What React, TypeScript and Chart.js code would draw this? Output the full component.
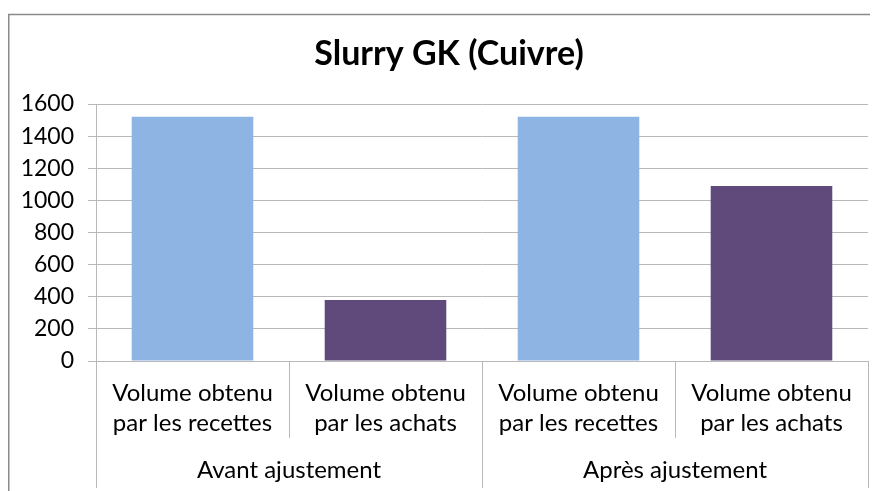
import React, { useEffect, useRef } from "react";
import { Chart, registerables } from "chart.js";

Chart.register(...registerables);

const title = "Slurry GK (Cuivre)";
const categories = ["recettes-avant", "achats-avant", "recettes-apres", "achats-apres"];
const innerLabels = [
  ["Volume obtenu", "par les recettes"],
  ["Volume obtenu", "par les achats"],
  ["Volume obtenu", "par les recettes"],
  ["Volume obtenu", "par les achats"],
];
const groupLabels = ["Avant ajustement", "Après ajustement"];
const groupSizes = [2, 2];
const values = [1520, 380, 1520, 1090];
const barColors = ["#8EB4E3", "#604A7B", "#8EB4E3", "#604A7B"];
const yMin = 0;
const yMax = 1600;
const yStep = 200;

const FONT = "Lato, 'Open Sans', sans-serif";
const GRID = "#b8b8b8";

const decorPlugin = {
  id: "decor",
  afterDraw(chart: any) {
    const ctx = chart.ctx;
    const area = chart.chartArea;
    const xs = chart.scales.x;
    ctx.save();
    // outer frame
    ctx.strokeStyle = "#8a8a8a";
    ctx.lineWidth = 1.5;
    ctx.strokeRect(0.75, 6.5, chart.width + 20, chart.height + 20);
    // title
    ctx.fillStyle = "#000";
    ctx.font = `bold 34px ${FONT}`;
    ctx.textAlign = "center";
    ctx.textBaseline = "middle";
    ctx.fillText(title, 441, 46);

    const centers = categories.map((_, i) => xs.getPixelForValue(i));
    const bounds: number[] = [area.left];
    for (let i = 0; i < centers.length - 1; i++) bounds.push((centers[i] + centers[i + 1]) / 2);
    bounds.push(area.right);

    // dividers
    ctx.strokeStyle = GRID;
    ctx.lineWidth = 1;
    const groupEdges = new Set<number>([0]);
    let acc = 0;
    groupSizes.forEach((s) => {
      acc += s;
      groupEdges.add(acc);
    });
    bounds.forEach((b, i) => {
      const long = groupEdges.has(i);
      const x = Math.round(b) + 0.5;
      ctx.beginPath();
      ctx.moveTo(x, area.bottom);
      ctx.lineTo(x, long ? area.bottom + 127 : area.bottom + 77);
      ctx.stroke();
    });

    // inner labels
    ctx.fillStyle = "#000";
    ctx.font = `24px ${FONT}`;
    innerLabels.forEach((lines, i) => {
      lines.forEach((ln, j) => {
        ctx.fillText(ln, centers[i], area.bottom + 32 + j * 30);
      });
    });
    // group labels
    let start = 0;
    groupSizes.forEach((s, g) => {
      const cx = (bounds[start] + bounds[start + s]) / 2;
      ctx.fillText(groupLabels[g], cx, area.bottom + 109);
      start += s;
    });
    ctx.restore();
  },
};

export default function App() {
  const ref = useRef<HTMLCanvasElement>(null);
  useEffect(() => {
    if (!ref.current) return;
    const chart = new Chart(ref.current, {
      type: "bar",
      data: {
        labels: categories,
        datasets: [
          {
            data: values,
            backgroundColor: barColors,
            borderWidth: 0,
            categoryPercentage: 0.63,
            barPercentage: 1,
          },
        ],
      },
      options: {
        animation: false,
        responsive: false,
        layout: { padding: { top: 96, right: 10, bottom: 130, left: 0 } },
        plugins: { legend: { display: false }, title: { display: false }, tooltip: { enabled: false } },
        scales: {
          x: { display: false },
          y: {
            min: yMin,
            max: yMax,
            ticks: {
              stepSize: yStep,
              padding: 14,
              color: "#000",
              font: { family: FONT, size: 23 },
              callback: (v: any) => String(v),
            },
            grid: { color: GRID, tickLength: 8, lineWidth: 1 },
            border: { color: GRID },
            afterFit: (scale: any) => {
              scale.width = 88;
            },
          },
        },
      },
      plugins: [decorPlugin],
    });
    return () => chart.destroy();
  }, []);
  return (
    <div style={{ width: 870, height: 483 }}>
      <canvas ref={ref} width={870} height={483} style={{ display: "block" }} />
    </div>
  );
}
